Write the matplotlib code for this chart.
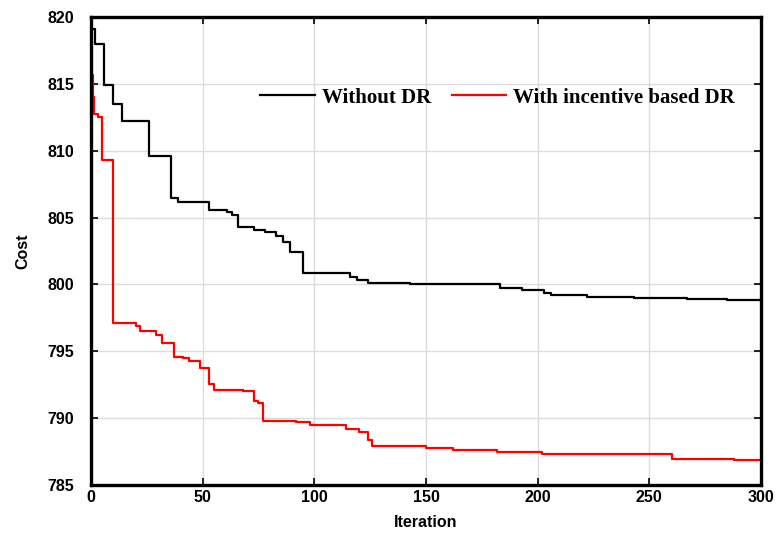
import matplotlib.pyplot as plt

# 反復回数とコスト（変化点のみ）
iter_no_dr = [0, 2, 6, 10, 14, 26, 36, 39, 53, 61, 63, 66, 73, 78, 83, 86, 89, 95,
              116, 119, 124, 143, 183, 193, 203, 206, 222, 243, 267, 285, 300]
cost_no_dr = [819.1, 818.0, 814.9, 813.5, 812.25, 809.6, 806.5, 806.2, 805.6, 805.4, 805.2,
              804.3, 804.1, 803.95, 803.6, 803.2, 802.4, 800.85,
              800.55, 800.3, 800.13, 800.0, 799.7, 799.55, 799.35, 799.2, 799.05, 798.97, 798.9, 798.85, 798.8]

iter_dr = [0, 0.8, 1.5, 3, 5, 10, 20, 22, 29, 32, 37, 41, 44, 49, 53, 55, 68, 73, 75, 77,
           92, 98, 114, 120, 124, 126, 150, 162, 182, 188, 202, 260, 288, 300]
cost_dr = [815.7, 814.0, 812.75, 812.5, 809.3, 797.15, 796.9, 796.5, 796.2, 795.6, 794.6,
           794.5, 794.3, 793.75, 792.55, 792.1, 792.0, 791.3, 791.1, 789.8,
           789.75, 789.5, 789.2, 789.0, 788.4, 787.9, 787.75, 787.6, 787.5, 787.45, 787.3,
           786.95, 786.9, 786.9]

fig = plt.figure(figsize=(7.78, 5.33), dpi=100)
ax = fig.add_axes([0.117, 0.090, 0.861, 0.878])

ax.plot(iter_no_dr, cost_no_dr, color="black", lw=1.6, drawstyle="steps-post", label="Without DR")
ax.plot(iter_dr, cost_dr, color="red", lw=1.6, drawstyle="steps-post", label="With incentive based DR")

ax.set_xlim(0, 300)
ax.set_ylim(785, 820)
ax.set_xticks(range(0, 301, 50))
ax.set_yticks(range(785, 821, 5))
ax.grid(True, color="#dcdcdc", lw=1)
ax.tick_params(direction="in", top=True, right=True, length=5, width=1.2, labelsize=11.5)
ax.tick_params(axis="y", pad=12)
for lab in ax.get_xticklabels() + ax.get_yticklabels():
    lab.set_fontweight("bold")
    lab.set_family("Liberation Sans")
for s in ax.spines.values():
    s.set_linewidth(2.4)

ax.set_xlabel("Iteration", fontsize=11.5, fontweight="bold", family="Liberation Sans", labelpad=7)
ax.set_ylabel("Cost", fontsize=11.5, fontweight="bold", family="Liberation Sans", labelpad=12)

ax.legend(loc="center left", bbox_to_anchor=(0.225, 0.828), ncol=2, frameon=False,
          prop={"family": "Liberation Serif", "weight": "bold", "size": 15},
          handlelength=2.6, handletextpad=0.35, columnspacing=1.0)

fig.savefig("out.png", dpi=100)
